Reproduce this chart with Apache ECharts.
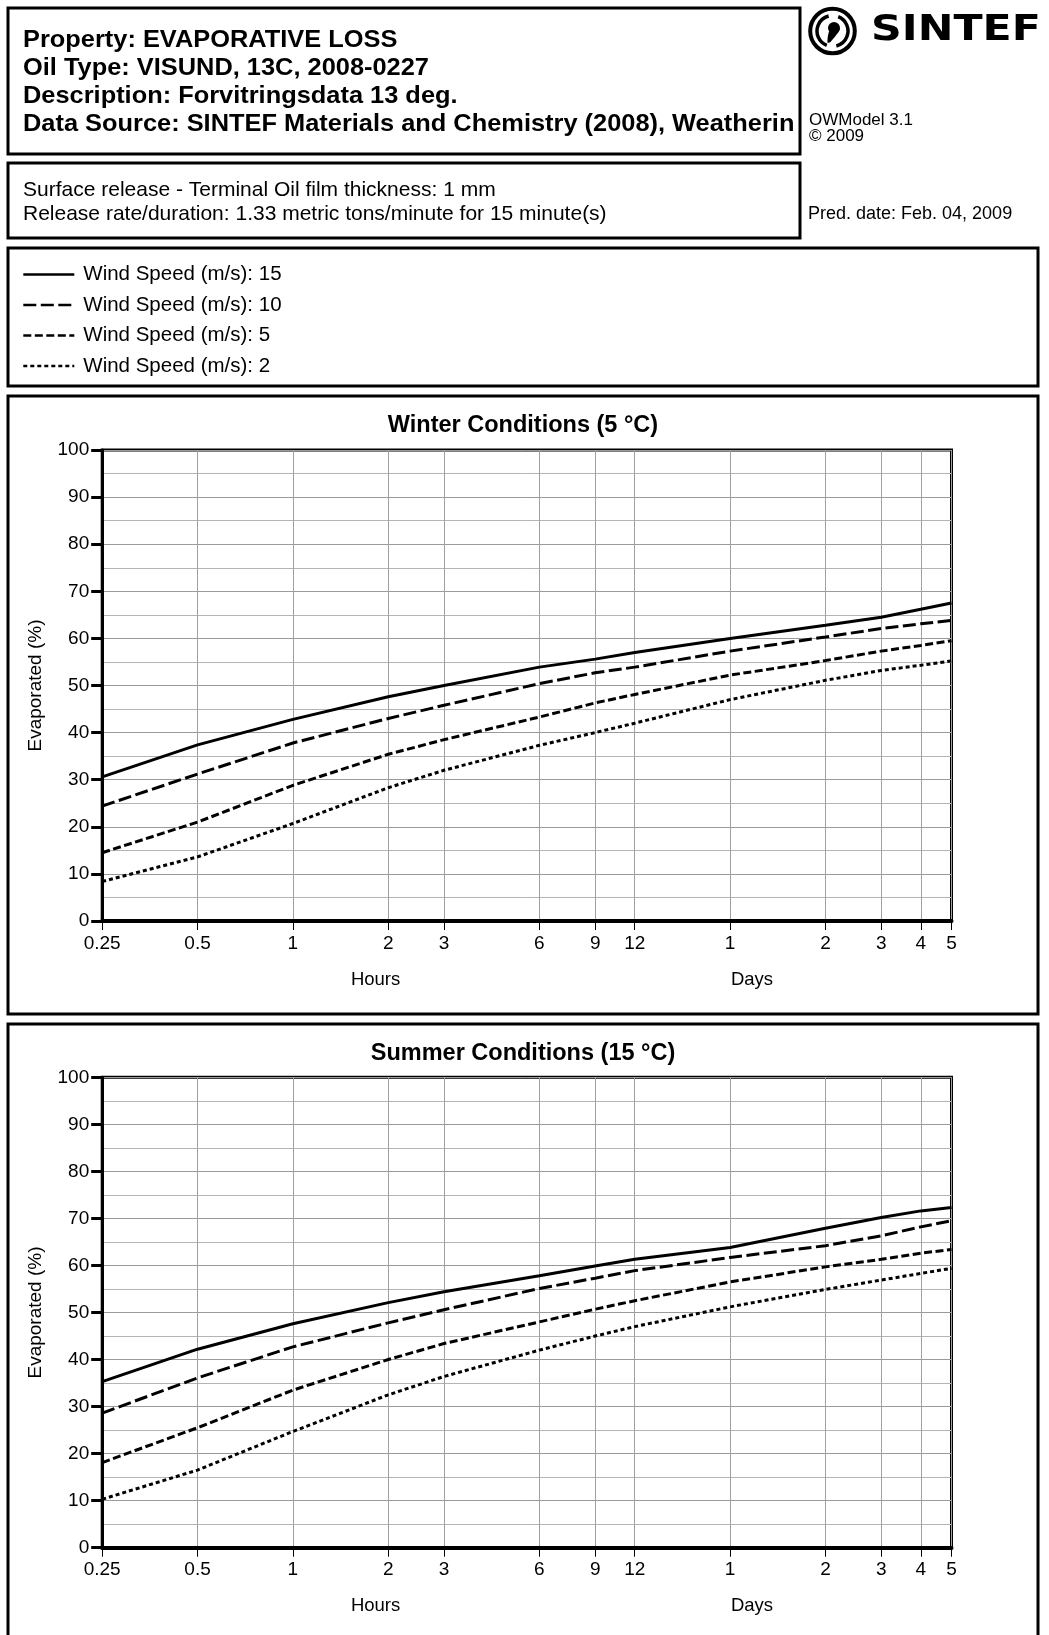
<!DOCTYPE html>
<html>
<head>
<meta charset="utf-8">
<script src="https://cdn.jsdelivr.net/npm/echarts@6/dist/echarts.min.js"></script>
<style>
html,body{margin:0;padding:0;background:#fff;}
#main{width:1049px;height:1635px;}
</style>
</head>
<body>
<div id="main"></div>
<script>
// ---- data ----
const hours = [0.25, 0.5, 1, 2, 3, 6, 9, 12, 24, 48, 72, 96, 120];
const tickHours = [0.25, 0.5, 1, 2, 3, 6, 9, 12, 24, 48, 72, 96, 120];
const seriesNames = ['Wind Speed (m/s): 15', 'Wind Speed (m/s): 10', 'Wind Speed (m/s): 5', 'Wind Speed (m/s): 2'];

const winter15 = [30.6, 37.4, 42.8, 47.6, 50.0, 53.9, 55.6, 57.0, 60.0, 62.8, 64.5, 66.2, 67.5];
const winter10 = [24.4, 31.2, 37.8, 43.0, 45.8, 50.4, 52.7, 53.9, 57.3, 60.3, 62.1, 63.1, 63.8];
const winter5  = [14.5, 21.0, 28.8, 35.4, 38.5, 43.3, 46.3, 48.1, 52.2, 55.3, 57.3, 58.5, 59.5];
const winter2  = [8.4, 13.6, 20.7, 28.3, 32.0, 37.3, 40.0, 42.0, 47.0, 51.1, 53.2, 54.3, 55.2];

const summer15 = [35.3, 42.2, 47.6, 52.1, 54.4, 57.8, 59.9, 61.3, 63.8, 67.9, 70.2, 71.6, 72.3];
const summer10 = [28.6, 36.1, 42.7, 47.8, 50.6, 55.1, 57.3, 58.9, 61.7, 64.2, 66.3, 68.2, 69.5];
const summer5  = [18.1, 25.5, 33.5, 40.0, 43.4, 48.0, 50.7, 52.5, 56.5, 59.7, 61.3, 62.6, 63.4];
const summer2  = [10.3, 16.5, 24.7, 32.5, 36.4, 42.0, 45.0, 47.0, 51.2, 54.9, 56.9, 58.3, 59.4];

const chartTitles = ['Winter Conditions (5 °C)', 'Summer Conditions (15 °C)'];
const headerLines = [
  'Property: EVAPORATIVE LOSS',
  'Oil Type: VISUND, 13C, 2008-0227',
  'Description: Forvitringsdata 13 deg.',
  'Data Source: SINTEF Materials and Chemistry (2008), Weathering'
];
const releaseLines = [
  'Surface release - Terminal Oil film thickness: 1 mm',
  'Release rate/duration: 1.33 metric tons/minute for 15 minute(s)'
];
const modelLines = ['OWModel 3.1', '© 2009'];
const predDate = 'Pred. date: Feb. 04, 2009';
const yAxisName = 'Evaporated (%)';
const xUnitNames = ['Hours', 'Days'];

// ---- styles ----
const FONT = 'Liberation Sans, Arial, sans-serif';
const dashTypes = ['solid', [13, 4.5], [8, 3.5], [4, 3]];

const chart = echarts.init(document.getElementById('main'), null, {renderer: 'canvas'});

const gridLeft = 102.2, gridWidth = 849.3;
const gridTops = [450, 1077.3];
const gridHeights = [471, 470.4];

const grids = gridTops.map((t, i) => ({
  left: gridLeft, top: t, width: gridWidth, height: gridHeights[i],
  show: true, borderColor: '#000', borderWidth: 3, backgroundColor: 'transparent'
}));

const xAxes = [0, 1].map(g => ({
  type: 'log', gridIndex: g, logBase: 10, min: 0.25, max: 120,
  axisLine: {show: true, onZero: false, lineStyle: {color: '#000', width: 4}},
  axisTick: {show: true, length: 9, customValues: tickHours, lineStyle: {color: '#000', width: 1}},
  axisLabel: {
    customValues: tickHours, fontSize: 19, color: '#000', margin: 13, fontFamily: FONT,
    formatter: v => (v < 24 ? String(v) : String(Math.round(v / 24)))
  },
  splitLine: {show: true, lineStyle: {color: '#a0a0a0', width: 1}},
  minorTick: {show: false}, minorSplitLine: {show: false}
}));

const yAxes = [0, 1].map(g => ({
  type: 'value', gridIndex: g, min: 0, max: 100, interval: 10,
  name: yAxisName, nameLocation: 'middle', nameGap: 57,
  nameTextStyle: {fontSize: 19, color: '#000', fontFamily: FONT},
  axisLine: {show: true, lineStyle: {color: '#000', width: 3}},
  axisTick: {show: true, length: 11, lineStyle: {color: '#000', width: 3}},
  axisLabel: {fontSize: 19, color: '#000', margin: 13, fontFamily: FONT},
  splitLine: {show: true, lineStyle: {color: '#9a9a9a', width: 1}},
  minorTick: {show: false, splitNumber: 2},
  minorSplitLine: {show: true, lineStyle: {color: '#b4b4b4', width: 1}}
}));

function mkSeries(name, vals, idx, g) {
  return {
    name: name, type: 'line', xAxisIndex: g, yAxisIndex: g,
    data: hours.map((h, i) => [h, vals[i]]),
    symbol: 'none', symbolSize: 0, showSymbol: false, smooth: false, silent: true,
    lineStyle: {color: '#000', width: 3, type: dashTypes[idx]},
    itemStyle: {color: '#000'},
    emphasis: {disabled: true}, z: 5
  };
}
const winterVals = [winter15, winter10, winter5, winter2];
const summerVals = [summer15, summer10, summer5, summer2];
const series = [];
winterVals.forEach((v, i) => series.push(mkSeries(seriesNames[i], v, i, 0)));
summerVals.forEach((v, i) => series.push(mkSeries(seriesNames[i], v, i, 1)));

// ---- graphic decorations ----
const graphic = [];
function rect(x, y, w, h) {
  graphic.push({type: 'rect', shape: {x: x, y: y, width: w, height: h},
    style: {fill: 'none', stroke: '#000', lineWidth: 3}, silent: true, z: 10});
}
function txt(x, y, text, font, opts) {
  opts = opts || {};
  const el = {type: 'text', x: x, y: y, silent: true, z: 11,
    style: Object.assign({x: 0, y: 0, text: text, font: font, fill: '#000', align: 'left', verticalAlign: 'middle'}, opts.style || {})};
  if (opts.scaleX) el.scaleX = opts.scaleX;
  graphic.push(el);
}
// boxes
rect(8, 8, 792, 146);
rect(8, 163, 792, 75);
rect(8, 248, 1030, 138);
rect(8, 396, 1030, 618);
rect(8, 1024, 1030, 640);

// header
const headerY = [40, 68, 96, 124];
headerLines.forEach((t, i) => {
  const st = {};
  if (i === 3) { st.width = 740; st.overflow = 'truncate'; st.ellipsis = ''; }
  txt(23, headerY[i], t, 'bold 24px ' + FONT, {scaleX: 1.058, style: st});
});
releaseLines.forEach((t, i) => txt(23, [190, 214][i], t, '21px ' + FONT));
modelLines.forEach((t, i) => txt(809, [120, 136][i], t, '17px ' + FONT));
txt(808, 214.5, predDate, '18px ' + FONT);

// axis unit names
[0, 1].forEach(g => {
  const yy = gridTops[g] + gridHeights[g] + 58.5;
  graphic.push({type: 'text', x: 375.6, y: yy, silent: true, z: 11,
    style: {text: xUnitNames[0], font: '18.5px ' + FONT, fill: '#000', align: 'center', verticalAlign: 'middle'}});
  graphic.push({type: 'text', x: 752, y: yy, silent: true, z: 11,
    style: {text: xUnitNames[1], font: '18.5px ' + FONT, fill: '#000', align: 'center', verticalAlign: 'middle'}});
});

// SINTEF logo
const cx = 832.5, cy = 31;
graphic.push({type: 'circle', shape: {cx: cx, cy: cy, r: 22.3}, style: {fill: 'none', stroke: '#000', lineWidth: 4}, silent: true, z: 11});
graphic.push({type: 'arc', shape: {cx: cx, cy: cy, r: 15.5, startAngle: Math.PI * 0.62, endAngle: Math.PI * 1.42, clockwise: true}, style: {fill: 'none', stroke: '#000', lineWidth: 3.5}, silent: true, z: 11});
graphic.push({type: 'arc', shape: {cx: cx, cy: cy, r: 15.5, startAngle: Math.PI * 1.62, endAngle: Math.PI * 2.42, clockwise: true}, style: {fill: 'none', stroke: '#000', lineWidth: 3.5}, silent: true, z: 11});
graphic.push({type: 'circle', shape: {cx: cx + 1.5, cy: cy - 3, r: 6}, style: {fill: '#000'}, silent: true, z: 11});
graphic.push({type: 'polygon', shape: {points: [[cx - 2.5, cy - 1], [cx + 7.2, cy - 2], [cx - 2, cy + 11], [cx - 5, cy + 11.5]], smooth: 0.3}, style: {fill: '#000'}, silent: true, z: 11});
graphic.push({type: 'text', x: 871, y: 31, scaleX: 1.22, silent: true, z: 11,
  style: {x: 0, y: 0, text: 'SINTEF', font: 'bold 35px DejaVu Sans', fill: '#000', align: 'left', verticalAlign: 'middle'}});

const option = {
  animation: false,
  backgroundColor: '#fff',
  textStyle: {fontFamily: FONT, color: '#000'},
  title: chartTitles.map((t, i) => ({
    text: t, left: 523, textAlign: 'center', top: [415, 1043][i], padding: 0,
    textStyle: {fontSize: 23.5, fontWeight: 'bold', color: '#000', fontFamily: FONT, lineHeight: 22}
  })),
  legend: {
    data: seriesNames, orient: 'vertical', left: 22, top: 264, padding: 0,
    itemWidth: 51, itemHeight: 14, itemGap: 9.5, selectedMode: false,
    itemStyle: {opacity: 0, borderWidth: 0},
    lineStyle: {width: 2.6},
    textStyle: {fontSize: 20.5, color: '#000', fontFamily: FONT, lineHeight: 20, padding: [0, 0, 0, 4]}
  },
  grid: grids,
  xAxis: xAxes,
  yAxis: yAxes,
  series: series,
  graphic: graphic
};
chart.setOption(option);
</script>
</body>
</html>
